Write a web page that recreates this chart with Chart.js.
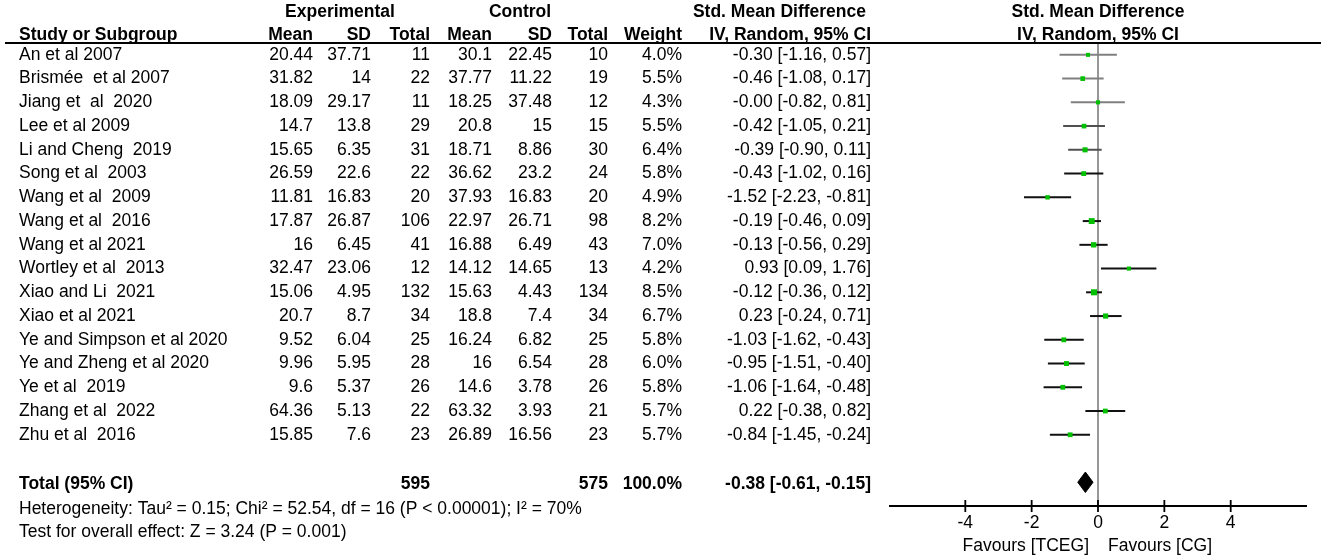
<!DOCTYPE html>
<html>
<head>
<meta charset="utf-8">
<title>Forest plot</title>
<script src="https://cdn.jsdelivr.net/npm/chart.js@4.4.1/dist/chart.umd.min.js"></script>
<style>
  html, body { margin: 0; padding: 0; background: #fff; }
  #wrap { width: 1325px; height: 558px; position: relative; }
</style>
</head>
<body>
<div id="wrap"><canvas id="forest"></canvas></div>
<script>
// Study data
const studies = [
  'An et al 2007', 'Brismée  et al 2007', 'Jiang et  al  2020', 'Lee et al 2009',
  'Li and Cheng  2019', 'Song et al  2003', 'Wang et al  2009', 'Wang et al  2016',
  'Wang et al 2021', 'Wortley et al  2013', 'Xiao and Li  2021', 'Xiao et al 2021',
  'Ye and Simpson et al 2020', 'Ye and Zheng et al 2020', 'Ye et al  2019',
  'Zhang et al  2022', 'Zhu et al  2016'
];
const expMean = [20.44, 31.82, 18.09, 14.7, 15.65, 26.59, 11.81, 17.87, 16, 32.47, 15.06, 20.7, 9.52, 9.96, 9.6, 64.36, 15.85];
const expSD = [37.71, 14, 29.17, 13.8, 6.35, 22.6, 16.83, 26.87, 6.45, 23.06, 4.95, 8.7, 6.04, 5.95, 5.37, 5.13, 7.6];
const expTotal = [11, 22, 11, 29, 31, 22, 20, 106, 41, 12, 132, 34, 25, 28, 26, 22, 23];
const ctlMean = [30.1, 37.77, 18.25, 20.8, 18.71, 36.62, 37.93, 22.97, 16.88, 14.12, 15.63, 18.8, 16.24, 16, 14.6, 63.32, 26.89];
const ctlSD = [22.45, 11.22, 37.48, 15, 8.86, 23.2, 16.83, 26.71, 6.49, 14.65, 4.43, 7.4, 6.82, 6.54, 3.78, 3.93, 16.56];
const ctlTotal = [10, 19, 12, 15, 30, 24, 20, 98, 43, 13, 134, 34, 25, 28, 26, 21, 23];
const weights = [4.0, 5.5, 4.3, 5.5, 6.4, 5.8, 4.9, 8.2, 7.0, 4.2, 8.5, 6.7, 5.8, 6.0, 5.8, 5.7, 5.7];
const smd = [-0.30, -0.46, -0.00, -0.42, -0.39, -0.43, -1.52, -0.19, -0.13, 0.93, -0.12, 0.23, -1.03, -0.95, -1.06, 0.22, -0.84];
const ciLow = [-1.16, -1.08, -0.82, -1.05, -0.90, -1.02, -2.23, -0.46, -0.56, 0.09, -0.36, -0.24, -1.62, -1.51, -1.64, -0.38, -1.45];
const ciHigh = [0.57, 0.17, 0.81, 0.21, 0.11, 0.16, -0.81, 0.09, 0.29, 1.76, 0.12, 0.71, -0.43, -0.40, -0.48, 0.82, -0.24];

const totalExp = 595;
const totalCtl = 575;
const totalWeight = 100.0;
const totalSmd = -0.38;
const totalLow = -0.61;
const totalHigh = -0.15;

const xTicks = [-4, -2, 0, 2, 4];
const heterogeneity = 'Heterogeneity: Tau² = 0.15; Chi² = 52.54, df = 16 (P < 0.00001); I² = 70%';
const overallTest = 'Test for overall effect: Z = 3.24 (P = 0.001)';
const favourLeft = 'Favours [TCEG]';
const favourRight = 'Favours [CG]';

const TOTAL_ROW = 18;
const FONT = "'Liberation Sans', Arial, sans-serif";
const SIZE = 17.5;

const fmt2 = v => ((v < 0 || Object.is(v, -0)) ? '-' : '') + Math.abs(v).toFixed(2);
const ciText = (m, lo, hi) => `${fmt2(m)} [${fmt2(lo)}, ${fmt2(hi)}]`;

// table columns (right edges) and headers
const columns = [
  { x: 313, head: 'Mean', get: i => String(expMean[i]) },
  { x: 371, head: 'SD', get: i => String(expSD[i]) },
  { x: 430, head: 'Total', get: i => String(expTotal[i]) },
  { x: 492, head: 'Mean', get: i => String(ctlMean[i]) },
  { x: 552, head: 'SD', get: i => String(ctlSD[i]) },
  { x: 608, head: 'Total', get: i => String(ctlTotal[i]) },
  { x: 682, head: 'Weight', get: i => weights[i].toFixed(1) + '%' },
  { x: 871, head: 'IV, Random, 95% CI', get: i => ciText(smd[i], ciLow[i], ciHigh[i]) }
];

const forestPlugin = {
  id: 'forest',
  beforeDatasetsDraw(chart) {
    const { ctx, chartArea, scales: { x } } = chart;
    const x0 = x.getPixelForValue(0);
    ctx.save();
    ctx.strokeStyle = '#8c8c8c';
    ctx.lineWidth = 1.8;
    ctx.beginPath();
    ctx.moveTo(x0, chartArea.top);
    ctx.lineTo(x0, chartArea.bottom);
    ctx.stroke();
    ctx.restore();
  },
  afterDatasetsDraw(chart) {
    const { ctx, scales: { x, y } } = chart;
    // pooled estimate diamond
    const cy = y.getPixelForValue(TOTAL_ROW);
    const h = y.getPixelForValue(TOTAL_ROW + 0.43) - cy;
    ctx.save();
    ctx.fillStyle = '#000';
    ctx.strokeStyle = '#000';
    ctx.lineWidth = 1;
    ctx.lineJoin = 'round';
    ctx.beginPath();
    ctx.moveTo(x.getPixelForValue(totalLow), cy);
    ctx.lineTo(x.getPixelForValue(totalSmd), cy - h);
    ctx.lineTo(x.getPixelForValue(totalHigh), cy);
    ctx.lineTo(x.getPixelForValue(totalSmd), cy + h);
    ctx.closePath();
    ctx.fill();
    ctx.stroke();
    ctx.restore();
  },
  afterDraw(chart) {
    const { ctx, chartArea, scales: { x, y } } = chart;
    const rowY = r => y.getPixelForValue(r);
    const text = (s, px, py, align, bold) => {
      ctx.font = `${bold ? 'bold ' : ''}${SIZE}px ${FONT}`;
      ctx.textAlign = align;
      ctx.fillText(s, px, py);
    };
    ctx.save();
    ctx.fillStyle = '#000';
    ctx.strokeStyle = '#000';
    ctx.textBaseline = 'middle';

    // header underline
    ctx.lineWidth = 1.8;
    ctx.beginPath();
    ctx.moveTo(5, chartArea.top);
    ctx.lineTo(1321, chartArea.top);
    ctx.stroke();

    // header rows
    const h1 = rowY(-1.8), h2 = rowY(-0.85);
    text('Experimental', 340, h1, 'center', true);
    text('Control', 520, h1, 'center', true);
    text('Std. Mean Difference', 866, h1, 'right', true);
    text('Std. Mean Difference', x.getPixelForValue(0), h1, 'center', true);
    text('Study or Subgroup', 19, h2, 'left', true);
    columns.forEach(c => text(c.head, c.x, h2, 'right', true));
    text('IV, Random, 95% CI', x.getPixelForValue(0), h2, 'center', true);

    // study rows
    studies.forEach((s, i) => {
      const py = rowY(i);
      text(s, 19, py, 'left', false);
      columns.forEach(c => text(c.get(i), c.x, py, 'right', false));
    });

    // total row
    const ty = rowY(TOTAL_ROW) + 2;
    text('Total (95% CI)', 19, ty, 'left', true);
    text(String(totalExp), columns[2].x, ty, 'right', true);
    text(String(totalCtl), columns[5].x, ty, 'right', true);
    text(totalWeight.toFixed(1) + '%', columns[6].x, ty, 'right', true);
    text(ciText(totalSmd, totalLow, totalHigh), columns[7].x, ty, 'right', true);
    text(heterogeneity, 19, rowY(TOTAL_ROW + 1.15), 'left', false);
    text(overallTest, 19, rowY(TOTAL_ROW + 2.12), 'left', false);

    // x axis
    const ay = chartArea.bottom;
    ctx.lineWidth = 1.8;
    ctx.beginPath();
    ctx.moveTo(chartArea.left, ay);
    ctx.lineTo(chartArea.right, ay);
    xTicks.forEach(t => {
      const px = x.getPixelForValue(t);
      ctx.moveTo(px, ay - 6);
      ctx.lineTo(px, ay + 6);
    });
    ctx.stroke();
    xTicks.forEach(t => text(String(t), x.getPixelForValue(t), ay + 17, 'center', false));
    text(favourLeft, x.getPixelForValue(0) - 9, ay + 40, 'right', false);
    text(favourRight, x.getPixelForValue(0) + 10, ay + 40, 'left', false);
    ctx.restore();
  }
};

const ciData = studies.flatMap((s, i) => [
  { x: ciLow[i], y: i },
  { x: ciHigh[i], y: i },
  { x: ciHigh[i], y: null }
]);
const pointData = studies.map((s, i) => ({ x: smd[i], y: i }));

new Chart(document.getElementById('forest'), {
  type: 'scatter',
  data: {
    datasets: [
      {
        label: 'Std. Mean Difference',
        data: pointData,
        pointStyle: 'rect',
        // square side grows with study weight
        pointRadius: weights.map(w => (0.45 * w + 2.2) / Math.SQRT2),
        pointBackgroundColor: '#00c000',
        pointBorderWidth: 0,
        order: 0
      },
      {
        label: '95% CI',
        data: ciData,
        showLine: true,
        spanGaps: false,
        pointRadius: 0,
        borderWidth: 2,
        borderColor: '#111',
        segment: {
          borderColor: c => (c.p0.parsed.y < 3 ? '#808080' : c.p0.parsed.y < 5 ? '#505050' : '#111')
        },
        order: 1
      }
    ]
  },
  options: {
    responsive: true,
    maintainAspectRatio: false,
    animation: false,
    layout: { padding: { left: 889, right: 18, top: 43, bottom: 52 } },
    plugins: { legend: { display: false }, tooltip: { enabled: false } },
    scales: {
      x: { type: 'linear', min: -6.3, max: 6.3, display: false },
      y: { type: 'linear', min: -0.5, max: 19, reverse: true, display: false }
    }
  },
  plugins: [forestPlugin]
});
</script>
</body>
</html>
